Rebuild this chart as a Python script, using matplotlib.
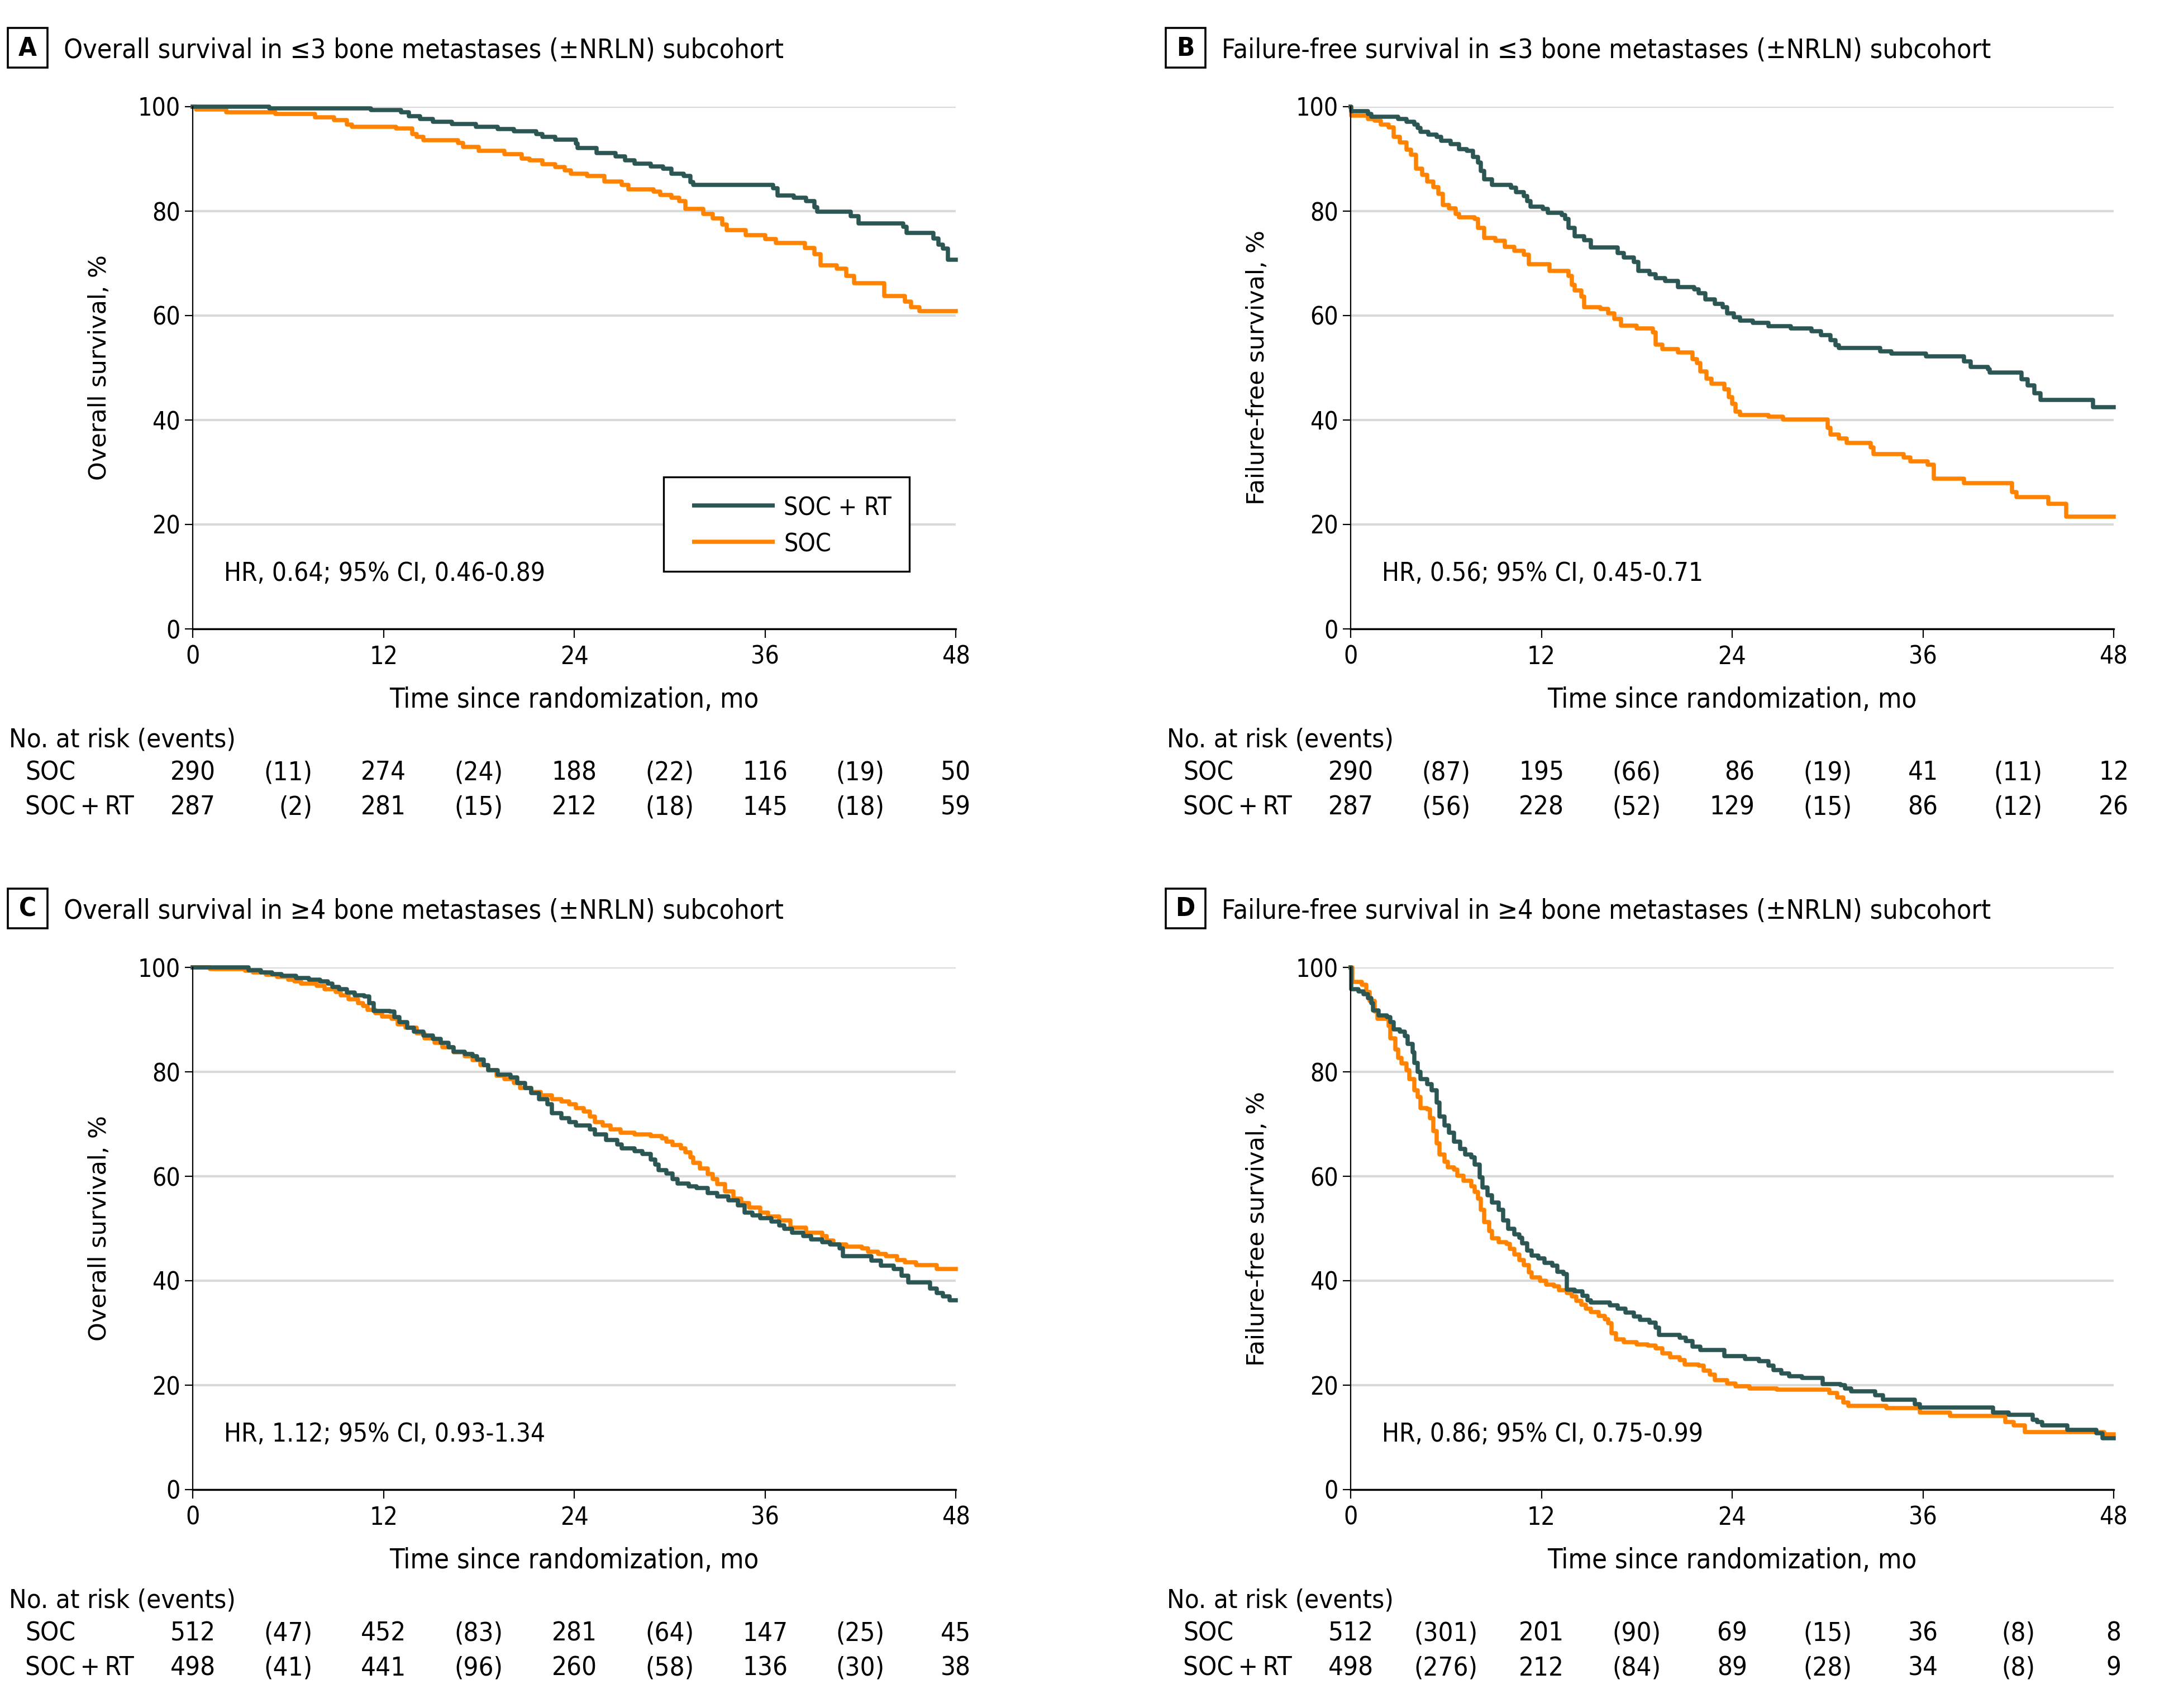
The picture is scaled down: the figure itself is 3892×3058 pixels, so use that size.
"""Kaplan-Meier curves for the bone metastases subcohorts (4 panels + at-risk tables)."""

import matplotlib
import numpy as np

matplotlib.use("Agg")
import matplotlib.pyplot as plt  # noqa: E402
from matplotlib import font_manager, transforms  # noqa: E402
from matplotlib.lines import Line2D  # noqa: E402
from matplotlib.patches import Rectangle  # noqa: E402

W, H, DPI = 3892, 3058, 200

DARK = "#2c5653"
ORANGE = "#ff8300"
GRID = "#d9d9d9"

# ---------------------------------------------------------------- data
MONTHS = [0, 12, 24, 36, 48]

# panel A: overall survival, <=3 bone metastases
a_rt_t = [0, 4.8, 11.2, 13.1, 13.6, 14.3, 15.1, 16.3, 17.8, 19.2, 20.2, 21.6, 22.0, 22.8,
          24.1, 24.2, 25.4, 26.6, 27.2, 27.8, 28.8, 29.6, 30.1, 30.9, 31.3, 31.5, 36.5,
          36.8, 37.8, 38.6, 39.1, 39.3, 41.4, 41.9, 44.7, 44.9, 46.6, 46.9, 47.2, 47.5, 48]
a_rt_s = [100, 99.7, 99.4, 98.9, 98.2, 97.7, 97.1, 96.7, 96.1, 95.7, 95.3, 94.8, 94.2, 93.7,
          92.9, 92.1, 91.1, 90.5, 89.7, 89.1, 88.6, 88.1, 87.2, 86.7, 85.6, 85.0, 84.4,
          83.0, 82.6, 81.9, 80.7, 79.9, 79.0, 77.7, 77.0, 75.8, 74.8, 73.6, 72.8, 70.7, 70.7]
a_soc_t = [0, 0.2, 2.1, 5.2, 7.7, 8.9, 9.7, 10.0, 12.8, 13.8, 14.1, 14.5, 16.7, 17.0, 18.0,
           19.6, 20.7, 21.2, 22.0, 22.8, 23.4, 23.8, 24.8, 25.9, 27.0, 27.4, 29.0, 29.4,
           30.1, 30.6, 31.0, 32.1, 32.7, 33.3, 33.6, 34.8, 36.0, 36.7, 38.5, 39.1, 39.5,
           40.5, 41.1, 41.6, 43.5, 44.8, 45.2, 45.7, 48]
a_soc_s = [100, 99.5, 98.9, 98.6, 98.0, 97.4, 96.6, 96.2, 95.8, 94.8, 94.2, 93.6, 93.0, 92.3,
           91.6, 90.9, 90.1, 89.7, 89.0, 88.5, 87.8, 87.2, 86.7, 85.7, 85.0, 84.2, 83.7, 83.1,
           82.6, 81.9, 80.4, 79.5, 78.6, 77.4, 76.4, 75.4, 74.7, 73.9, 72.9, 71.8, 69.6,
           69.0, 67.6, 66.2, 63.7, 62.7, 61.6, 60.9, 60.9]

# panel B: failure-free survival, <=3 bone metastases
b_rt_t = [0, 0.05, 1.1, 1.3, 3.0, 3.5, 4.0, 4.2, 4.4, 4.9, 5.4, 5.7, 6.3, 6.8, 7.3, 7.7, 8.0,
          8.2, 8.4, 8.9, 10.1, 10.4, 10.9, 11.1, 11.3, 12.1, 12.4, 13.3, 13.5, 13.7, 14.1,
          14.7, 15.1, 16.8, 17.2, 17.8, 18.1, 18.8, 19.2, 19.8, 20.6, 21.6, 21.9, 22.3, 22.9,
          23.4, 23.7, 24.1, 24.5, 25.3, 26.3, 27.7, 29.0, 29.6, 30.2, 30.5, 30.7, 33.3, 34.0,
          36.2, 38.6, 39.0, 40.1, 40.2, 42.2, 42.6, 43.0, 43.4, 46.7, 48]
b_rt_s = [100, 99.1, 98.6, 98.1, 97.6, 97.1, 96.6, 95.9, 95.2, 94.7, 94.2, 93.5, 92.8, 91.9,
          91.5, 90.4, 89.3, 87.7, 86.1, 85.0, 84.5, 83.6, 82.9, 81.9, 80.9, 80.4, 79.7, 79.3,
          78.5, 76.8, 75.2, 74.4, 73.0, 72.0, 71.1, 70.3, 68.6, 67.9, 67.2, 66.6, 65.5, 65.0,
          64.3, 63.1, 62.2, 61.6, 60.4, 59.7, 59.0, 58.6, 58.0, 57.5, 57.0, 56.3, 55.3, 54.3,
          53.8, 53.2, 52.7, 52.2, 51.2, 50.2, 49.7, 49.1, 47.8, 46.6, 45.1, 43.8, 42.5, 42.5]
b_soc_t = [0, 0.05, 1.1, 1.5, 1.9, 2.4, 2.7, 3.1, 3.5, 3.8, 4.1, 4.5, 4.8, 5.2, 5.5, 5.8, 6.2,
           6.6, 6.8, 7.8, 8.0, 8.4, 9.1, 9.7, 10.3, 10.9, 11.2, 12.5, 13.7, 13.9, 14.1, 14.5,
           14.7, 15.7, 16.2, 16.6, 17.0, 18.0, 19.0, 19.2, 19.6, 20.6, 21.5, 21.8, 22.0, 22.4,
           22.7, 23.5, 23.8, 24.0, 24.2, 24.5, 26.3, 27.2, 30.0, 30.2, 30.7, 31.2, 32.7, 32.9,
           34.8, 35.2, 36.3, 36.7, 38.6, 41.6, 41.9, 43.9, 45.0, 48]
b_soc_s = [100, 98.3, 97.7, 97.3, 96.6, 96.0, 94.2, 93.2, 91.8, 90.8, 88.1, 87.0, 85.7, 84.6,
           83.3, 81.2, 80.5, 79.5, 78.8, 78.5, 76.8, 74.9, 74.3, 73.2, 72.4, 71.7, 69.8, 68.6,
           67.6, 65.9, 64.8, 63.6, 61.6, 61.3, 60.4, 59.4, 58.1, 57.5, 56.8, 54.4, 53.6, 52.9,
           51.7, 50.9, 49.3, 47.9, 47.0, 45.9, 44.4, 43.1, 41.6, 41.0, 40.6, 40.1, 38.5, 37.2,
           36.5, 35.6, 34.8, 33.5, 32.8, 32.1, 31.4, 28.8, 27.9, 26.2, 25.2, 24.0, 21.5, 21.5]

# panel C: overall survival, >=4 bone metastases
c_rt_t = [0, 3.5, 4.3, 5.0, 5.6, 6.5, 7.3, 8.0, 8.5, 8.8, 9.2, 9.7, 10.2, 10.8, 11.1, 11.4,
          12.4, 12.7, 13.0, 13.5, 13.9, 14.5, 15.1, 15.6, 16.1, 16.4, 17.1, 17.6, 17.9, 18.3,
          18.6, 19.2, 20.0, 20.4, 20.9, 21.3, 21.8, 22.3, 22.6, 23.2, 23.7, 24.1, 25.0, 25.3,
          26.0, 26.7, 27.0, 27.8, 28.3, 28.8, 29.1, 29.3, 29.8, 30.2, 30.5, 31.2, 31.7, 32.4,
          33.0, 33.7, 34.3, 34.7, 35.2, 35.7, 36.4, 36.9, 37.2, 37.7, 38.4, 38.9, 39.6, 40.1,
          40.7, 40.9, 42.7, 43.3, 44.1, 44.6, 45.0, 46.4, 46.8, 47.2, 47.6, 48]
c_rt_s = [100, 99.5, 99.0, 98.7, 98.4, 98.0, 97.7, 97.3, 96.9, 96.3, 95.8, 95.2, 94.6, 94.4,
          93.2, 91.7, 91.5, 90.5, 89.5, 88.5, 87.7, 87.0, 86.3, 85.6, 84.7, 83.8, 83.4, 83.0,
          82.3, 81.3, 80.3, 79.5, 78.9, 77.9, 76.9, 75.9, 74.8, 73.8, 72.1, 71.1, 70.4, 69.7,
          69.0, 68.0, 67.0, 66.1, 65.3, 64.8, 64.3, 63.2, 62.2, 61.2, 60.5, 59.5, 58.6, 58.1,
          57.8, 56.8, 56.1, 55.4, 54.4, 53.1, 52.5, 52.0, 51.3, 50.6, 49.9, 49.2, 48.6, 47.9,
          47.4, 46.9, 46.2, 44.7, 43.8, 42.9, 42.2, 41.0, 39.7, 38.5, 37.6, 37.0, 36.3, 36.3]
c_soc_t = [0, 1.1, 3.3, 3.8, 4.6, 5.3, 6.0, 6.4, 6.8, 7.8, 8.3, 9.0, 9.3, 9.8, 10.4, 10.7,
           11.0, 11.5, 11.9, 12.5, 12.9, 13.4, 14.1, 14.6, 15.2, 15.7, 16.4, 17.1, 17.6, 18.1,
           18.6, 19.1, 19.6, 20.2, 20.6, 21.3, 21.9, 22.6, 23.2, 23.7, 24.1, 24.6, 25.0, 25.3,
           25.8, 26.3, 26.9, 27.8, 28.8, 29.5, 29.8, 30.2, 30.7, 31.0, 31.3, 31.5, 31.9, 32.4,
           32.7, 33.0, 33.5, 34.0, 34.5, 35.0, 35.7, 36.2, 36.9, 37.6, 38.6, 39.6, 39.9, 40.3,
           41.1, 42.1, 42.5, 43.1, 43.6, 44.3, 44.8, 45.5, 46.8, 48]
c_soc_s = [100, 99.7, 99.4, 99.0, 98.6, 98.2, 97.7, 97.3, 96.9, 96.5, 95.8, 95.3, 94.6, 93.9,
           93.2, 92.6, 91.9, 91.2, 90.6, 90.2, 89.1, 88.5, 87.4, 86.4, 85.6, 84.7, 83.7, 83.0,
           82.2, 81.3, 80.3, 79.3, 78.6, 77.9, 76.9, 76.2, 75.5, 74.8, 74.3, 73.8, 73.1, 72.4,
           71.4, 70.4, 69.7, 69.0, 68.3, 68.0, 67.7, 67.3, 66.6, 66.0, 65.4, 64.6, 63.6, 62.6,
           61.5, 60.4, 59.5, 58.5, 57.1, 55.7, 54.9, 54.0, 53.1, 52.3, 51.5, 50.2, 49.2, 48.6,
           47.7, 46.9, 46.5, 46.2, 45.6, 45.1, 44.7, 44.0, 43.5, 43.0, 42.2, 42.2]

# panel D: failure-free survival, >=4 bone metastases
d_rt_t = [0, 0.05, 0.5, 0.8, 1.1, 1.3, 1.4, 1.75, 2.3, 2.5, 2.7, 3.1, 3.4, 3.6, 3.9, 4.0, 4.2,
          4.4, 4.8, 5.1, 5.4, 5.6, 5.9, 6.2, 6.5, 6.9, 7.2, 7.6, 7.8, 8.1, 8.3, 8.6, 8.9, 9.3,
          9.6, 9.9, 10.3, 10.6, 10.8, 11.1, 11.4, 11.8, 12.2, 12.7, 13.0, 13.4, 13.6, 14.1,
          14.6, 14.9, 15.1, 16.3, 16.8, 17.3, 17.8, 18.2, 18.8, 19.2, 19.4, 20.7, 21.1, 21.5,
          22.0, 23.5, 24.8, 25.7, 26.3, 26.6, 27.1, 27.6, 28.4, 29.7, 30.8, 31.1, 31.5, 33.0,
          33.5, 35.5, 35.8, 40.4, 41.4, 42.9, 43.2, 43.5, 45.1, 46.9, 47.3, 48]
d_rt_s = [100, 95.8, 95.4, 94.9, 94.1, 93.2, 91.8, 90.8, 90.5, 89.5, 88.1, 87.7, 86.8, 85.4,
          83.7, 81.7, 80.0, 78.6, 77.6, 76.5, 74.1, 71.4, 69.7, 68.3, 66.6, 65.2, 64.2, 63.6,
          62.2, 59.8, 57.9, 56.4, 55.0, 53.6, 51.6, 49.9, 48.9, 48.2, 47.2, 45.8, 44.8, 44.3,
          43.4, 42.9, 41.7, 41.3, 38.3, 38.0, 37.1, 36.3, 35.8, 35.3, 34.6, 33.9, 33.2, 32.5,
          32.0, 31.0, 29.6, 29.1, 28.4, 27.4, 26.7, 25.6, 25.0, 24.6, 23.7, 22.9, 22.2, 21.7,
          21.4, 20.2, 20.0, 19.4, 18.8, 18.1, 17.2, 16.4, 15.7, 14.8, 14.3, 13.4, 12.9, 12.3,
          11.4, 10.8, 9.8, 9.8]
d_soc_t = [0, 0.1, 0.7, 1.0, 1.2, 1.5, 1.7, 2.4, 2.5, 2.8, 3.0, 3.2, 3.5, 3.7, 4.0, 4.2, 4.4,
           4.8, 5.0, 5.2, 5.4, 5.6, 5.9, 6.1, 6.5, 6.7, 7.1, 7.6, 7.8, 8.0, 8.2, 8.4, 8.7, 8.9,
           9.3, 9.8, 10.0, 10.3, 10.6, 10.9, 11.2, 11.4, 11.9, 12.3, 12.8, 13.1, 13.6, 13.9,
           14.2, 14.5, 14.8, 15.1, 15.6, 16.0, 16.2, 16.4, 16.7, 17.2, 18.0, 18.7, 19.2, 19.6,
           20.1, 20.7, 21.0, 21.9, 22.2, 22.6, 22.9, 23.7, 24.2, 25.1, 26.8, 30.1, 30.6, 31.0,
           31.3, 33.7, 35.8, 37.7, 41.2, 41.7, 42.4, 47.4, 48]
d_soc_s = [100, 97.2, 96.7, 95.3, 93.6, 91.5, 90.2, 88.8, 86.4, 84.3, 82.7, 81.6, 80.3, 78.6,
           76.5, 75.2, 73.1, 72.8, 71.1, 68.7, 66.3, 64.2, 62.8, 61.7, 61.3, 60.1, 59.1, 58.1,
           57.0, 55.7, 53.6, 51.2, 49.5, 48.1, 47.4, 47.1, 46.1, 45.0, 44.0, 43.0, 41.6, 40.6,
           40.0, 39.2, 38.9, 38.2, 37.7, 37.0, 36.1, 35.4, 34.7, 34.0, 33.3, 32.6, 31.9, 29.9,
           28.8, 28.2, 27.8, 27.6, 27.1, 26.1, 25.4, 24.8, 24.0, 23.7, 22.8, 22.0, 21.0, 20.3,
           19.8, 19.4, 19.1, 18.5, 17.6, 16.7, 16.0, 15.6, 14.8, 14.1, 12.9, 12.3, 11.0, 10.6,
           10.6]

# no. at risk at 0/12/24/36/48 mo, events in each 12-mo interval
a_soc_risk, a_soc_events = [290, 274, 188, 116, 50], [11, 24, 22, 19]
a_rt_risk, a_rt_events = [287, 281, 212, 145, 59], [2, 15, 18, 18]
b_soc_risk, b_soc_events = [290, 195, 86, 41, 12], [87, 66, 19, 11]
b_rt_risk, b_rt_events = [287, 228, 129, 86, 26], [56, 52, 15, 12]
c_soc_risk, c_soc_events = [512, 452, 281, 147, 45], [47, 83, 64, 25]
c_rt_risk, c_rt_events = [498, 441, 260, 136, 38], [41, 96, 58, 30]
d_soc_risk, d_soc_events = [512, 201, 69, 36, 8], [301, 90, 15, 8]
d_rt_risk, d_rt_events = [498, 212, 89, 34, 9], [276, 84, 28, 8]

TITLES = {
    "A": "Overall survival in \u22643 bone metastases (\u00b1NRLN) subcohort",
    "B": "Failure-free survival in \u22643 bone metastases (\u00b1NRLN) subcohort",
    "C": "Overall survival in \u22654 bone metastases (\u00b1NRLN) subcohort",
    "D": "Failure-free survival in \u22654 bone metastases (\u00b1NRLN) subcohort",
}
YLABELS = {"A": "Overall survival, %", "B": "Failure-free survival, %",
           "C": "Overall survival, %", "D": "Failure-free survival, %"}
HR_TEXT = {"A": "HR, 0.64; 95% CI, 0.46-0.89", "B": "HR, 0.56; 95% CI, 0.45-0.71",
           "C": "HR, 1.12; 95% CI, 0.93-1.34", "D": "HR, 0.86; 95% CI, 0.75-0.99"}

PANELS = {
    "A": ((a_rt_t, a_rt_s), (a_soc_t, a_soc_s), (a_soc_risk, a_soc_events), (a_rt_risk, a_rt_events)),
    "B": ((b_rt_t, b_rt_s), (b_soc_t, b_soc_s), (b_soc_risk, b_soc_events), (b_rt_risk, b_rt_events)),
    "C": ((c_rt_t, c_rt_s), (c_soc_t, c_soc_s), (c_soc_risk, c_soc_events), (c_rt_risk, c_rt_events)),
    "D": ((d_rt_t, d_rt_s), (d_soc_t, d_soc_s), (d_soc_risk, d_soc_events), (d_rt_risk, d_rt_events)),
}

# axes boxes in figure pixels: left, top
AX_W, AX_H = 1366, 935
AX_POS = {"A": (345, 191), "B": (2418, 191), "C": (345, 1732), "D": (2418, 1732)}
LW = 2.7


def pick_font():
    names = {(f.name, f.stretch) for f in font_manager.fontManager.ttflist}
    if ("DejaVu Sans", "condensed") in names:
        return ["DejaVu Sans"], "condensed"
    if any(n == "Liberation Sans Narrow" for n, _ in names):
        return ["Liberation Sans Narrow", "DejaVu Sans"], "normal"
    return ["DejaVu Sans"], "normal"


FAMILY, STRETCH = pick_font()
plt.rcParams["font.family"] = FAMILY
plt.rcParams["font.stretch"] = STRETCH


def fy(px):
    return 1 - px / H


def at_risk(fig, ax, rows, ys):
    """Right-align each column, centre the column block on its time point."""
    blend = transforms.blended_transform_factory(ax.transData, fig.transFigure)
    renderer = fig.canvas.get_renderer()
    for col in range(9):
        x = col * 6
        texts = []
        for (risk, events), y in zip(rows, ys):
            s = str(risk[col // 2]) if col % 2 == 0 else f"({events[col // 2]})"
            texts.append(ax.text(x, fy(y), s, ha="right", va="center", fontsize=17,
                                 transform=blend, clip_on=False))
        w = max(t.get_window_extent(renderer).width for t in texts)
        shift = transforms.ScaledTranslation(w / 2 / DPI, 0, fig.dpi_scale_trans)
        for t in texts:
            t.set_transform(blend + shift)


def legend_box(ax, left, top):
    """Framed legend drawn in figure-pixel positions (box 1188-1628 x 854-1023)."""
    def to_ax(x, y):
        return (x - left) / AX_W, (top + AX_H - y) / AX_H

    x0, y0 = to_ax(1188, 1023)
    x1, y1 = to_ax(1628, 854)
    ax.add_patch(Rectangle((x0, y0), x1 - x0, y1 - y0, transform=ax.transAxes,
                           fc="white", ec="black", lw=1.2, zorder=5, clip_on=False))
    for y, color, label in ((905, DARK, "SOC + RT"), (970, ORANGE, "SOC")):
        xa, ya = to_ax(1239, y)
        xb, _ = to_ax(1387, y)
        ax.add_line(Line2D([xa, xb], [ya, ya], transform=ax.transAxes, color=color,
                           lw=LW, zorder=6, solid_capstyle="butt"))
        xt, yt = to_ax(1403, y + 5)
        ax.text(xt, yt, label, transform=ax.transAxes, ha="left", va="center",
                fontsize=16, zorder=6)


def draw_panel(fig, key):
    left, top = AX_POS[key]
    ax = fig.add_axes([left / W, fy(top + AX_H), AX_W / W, AX_H / H])
    (rt_t, rt_s), (soc_t, soc_s), soc_tab, rt_tab = PANELS[key]

    ax.step(soc_t, soc_s, where="post", color=ORANGE, lw=LW, clip_on=False)
    ax.step(rt_t, rt_s, where="post", color=DARK, lw=LW, clip_on=False)

    ax.set_xlim(0, 48)
    ax.set_ylim(0, 100)
    ax.set_xticks(MONTHS)
    ax.set_yticks(range(0, 101, 20))
    ax.yaxis.grid(True, color=GRID, lw=1.5)
    ax.set_axisbelow(True)
    for side in ("top", "right"):
        ax.spines[side].set_visible(False)
    ax.spines["left"].set_linewidth(0.8)
    ax.spines["bottom"].set_linewidth(1.2)
    ax.tick_params(axis="x", length=5.8, width=0.8, pad=4.5, labelsize=16)
    ax.tick_params(axis="y", length=5, width=0.8, pad=3, labelsize=16)

    ax.set_xlabel("Time since randomization, mo", fontsize=17.5)
    ax.xaxis.set_label_coords(0.5, -127 / AX_H)
    ax.xaxis.label.set_va("center")
    ax.set_ylabel(YLABELS[key], fontsize=15.5, fontstretch="normal")
    ax.yaxis.set_label_coords(-167 / AX_W, 0.5)
    ax.yaxis.label.set_va("center")

    ax.text(0.041, 0.105, HR_TEXT[key], transform=ax.transAxes, va="center", fontsize=16.5)

    if key == "A":
        legend_box(ax, left, top)

    # panel letter box and title
    bottom = top + AX_H
    fig.add_artist(Rectangle(((left - 331) / W, fy(top - 70)), 71 / W, 71 / H,
                             transform=fig.transFigure, fill=False, ec="black", lw=1.3))
    fig.text((left - 296) / W, fy(top - 104), key, ha="center", va="center",
             fontsize=17, fontweight="bold")
    fig.text((left - 231) / W, fy(top - 101), TITLES[key], ha="left", va="center",
             fontsize=17.4)

    # at-risk table
    fig.text((left - 329) / W, fy(bottom + 199), "No. at risk (events)", ha="left",
             va="center", fontsize=17)
    fig.text((left - 300) / W, fy(bottom + 258), "SOC", ha="left", va="center", fontsize=17)
    fig.text((left - 300) / W, fy(bottom + 320), "SOC\u2009+\u2009RT", ha="left",
             va="center", fontsize=17)
    at_risk(fig, ax, [soc_tab, rt_tab], [bottom + 258, bottom + 320])
    return ax


def main():
    fig = plt.figure(figsize=(W / DPI, H / DPI), dpi=DPI)
    fig.patch.set_facecolor("white")
    for key in "ABCD":
        draw_panel(fig, key)
    fig.savefig("out.png", dpi=DPI, facecolor="white")
    plt.close(fig)


if __name__ == "__main__":
    main()
